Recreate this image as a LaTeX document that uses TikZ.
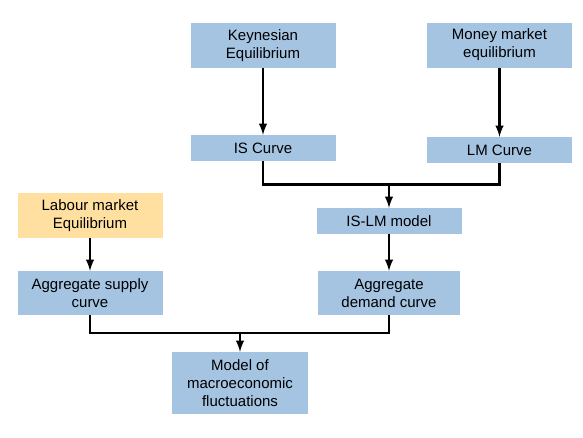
\documentclass[tikz,border=0pt]{standalone}
\usepackage{fontspec}
\setmainfont{Liberation Sans}
\usetikzlibrary{arrows}
\definecolor{boxblue}{RGB}{164,196,226}
\definecolor{boxorange}{RGB}{255,224,160}
\tikzset{
  box/.style={fill=boxblue, align=center, inner sep=0pt, minimum width=145pt,
    font=\fontsize{15}{18}\selectfont},
  flow/.style={line width=2.8pt},
  flowarrow/.style={flow, arrows={-latex}}
}
\begin{document}
\begin{tikzpicture}[x=1pt, y=-1pt]
\useasboundingbox (0,0) rectangle (583,437);
\node[box, minimum height=45pt] at (263,45.5) (keynes) {Keynesian\\Equilibrium};
\node[box, minimum height=45pt] at (499.5,45) (money) {Money market\\equilibrium};
\node[box, minimum height=26pt] at (263,148) (is) {IS Curve};
\node[box, minimum height=26pt] at (499.5,150) (lm) {LM Curve};
\node[box, minimum height=26pt] at (389,221) (islm) {IS-LM model};
\node[box, minimum height=44pt, minimum width=142pt] at (389,293) (ad) {Aggregate\\demand curve};
\node[box, fill=boxorange, minimum height=45pt] at (90,215.5) (labour) {Labour market\\Equilibrium};
\node[box, minimum height=44pt] at (90,293) (as) {Aggregate supply\\curve};
\node[box, minimum height=62pt, minimum width=136pt] at (240,383) (model) {Model of\\macroeconomic\\fluctuations};
\coordinate (top join) at (389,184.5);
\coordinate (low join) at (240,333);
\draw[flowarrow] (keynes) -- (is);
\draw[flowarrow] (money) -- (lm);
\draw[flow] (is.south) |- (top join);
\draw[flow] (lm.south) |- (top join);
\draw[flowarrow] (top join) -- (islm);
\draw[flowarrow] (islm) -- (ad);
\draw[flowarrow] (labour) -- (as);
\draw[flow] (as.south) |- (low join) -| (ad.south);
\draw[flowarrow] (low join) -- (model);
\end{tikzpicture}
\end{document}
